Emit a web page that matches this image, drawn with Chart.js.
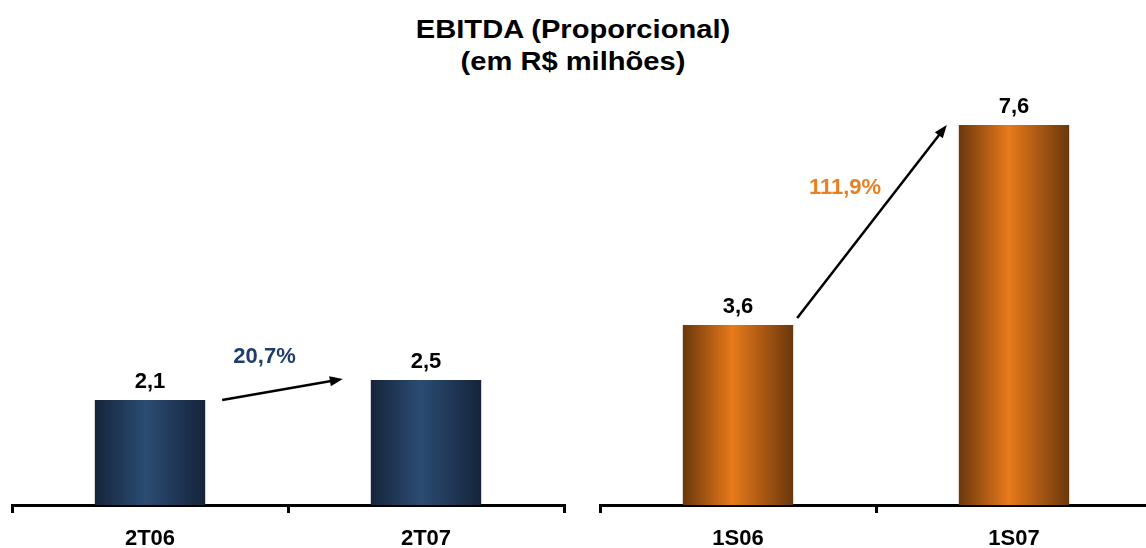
<!DOCTYPE html>
<html>
<head>
<meta charset="utf-8">
<script src="https://cdn.jsdelivr.net/npm/chart.js@4/dist/chart.umd.min.js"></script>
<style>
  html, body { margin: 0; padding: 0; background: #fff; overflow: hidden; }
  #wrap { position: relative; width: 1146px; height: 548px; overflow: hidden; }
  #title {
    position: absolute; left: 0; top: 13px; width: 1146px;
    text-align: center; font: bold 26px "Liberation Sans", Arial, sans-serif;
    line-height: 32px; color: #000; transform: scaleX(1.12);
  }
  .box { position: absolute; top: 0; width: 576px; height: 548px; }
</style>
</head>
<body>
<div id="wrap">
  <div id="title">EBITDA (Proporcional)<br>(em R$ milhões)</div>
  <div class="box" style="left:0"><canvas id="chartLeft"></canvas></div>
  <div class="box" style="left:588px"><canvas id="chartRight"></canvas></div>
</div>
<script>
// Dados
var leftLabels = ['2T06', '2T07'];
var leftValues = [2.1, 2.5];
var leftGrowth = '20,7%';

var rightLabels = ['1S06', '1S07'];
var rightValues = [3.6, 7.6];
var rightGrowth = '111,9%';

var FONT = '"Liberation Sans", Arial, sans-serif';

function drawText(ctx, text, x, y, size, color) {
    ctx.save();
    ctx.font = 'bold ' + size + 'px ' + FONT;
    ctx.fillStyle = color;
    ctx.textAlign = 'center';
    ctx.textBaseline = 'middle';
    ctx.fillText(text, x, y);
    ctx.restore();
}

// gradiente horizontal em cada barra
function barGradient(dark, light) {
    return function (c) {
        var chart = c.chart;
        if (!chart.chartArea || c.dataIndex === undefined) return light;
        var xs = chart.scales.x;
        var cx = xs.getPixelForValue(c.dataIndex);
        var w = xs.width / chart.data.labels.length * 0.4;
        var g = chart.ctx.createLinearGradient(cx - w / 2, 0, cx + w / 2, 0);
        g.addColorStop(0, dark);
        g.addColorStop(0.45, light);
        g.addColorStop(1, dark);
        return g;
    };
}

// rotulos, seta e percentual
var annotate = {
    id: 'annotate',
    afterDatasetsDraw: function (chart, args, opts) {
        var ctx = chart.ctx;
        var bars = chart.getDatasetMeta(0).data;
        var values = chart.data.datasets[0].data;
        var xs = chart.scales.x;

        bars.forEach(function (b, i) {
            drawText(ctx, values[i].toFixed(1).replace('.', ','), b.x, b.y - 18, 22, '#000');
            drawText(ctx, chart.data.labels[i], xs.getPixelForValue(i), xs.top + 34, 22, '#000');
        });

        var a = bars[0], b = bars[1];
        var x1 = a.x + a.width / 2 + opts.start[0];
        var y1 = a.y + opts.start[1];
        var x2 = b.x - b.width / 2 + opts.end[0];
        var y2 = b.y + opts.end[1];
        var ang = Math.atan2(y2 - y1, x2 - x1);
        var head = 13;

        ctx.save();
        ctx.strokeStyle = '#000';
        ctx.fillStyle = '#000';
        ctx.lineWidth = 2.5;
        ctx.beginPath();
        ctx.moveTo(x1, y1);
        ctx.lineTo(x2 - head * 0.8 * Math.cos(ang), y2 - head * 0.8 * Math.sin(ang));
        ctx.stroke();
        ctx.beginPath();
        ctx.moveTo(x2, y2);
        ctx.lineTo(x2 - head * Math.cos(ang) + 5 * Math.sin(ang), y2 - head * Math.sin(ang) - 5 * Math.cos(ang));
        ctx.lineTo(x2 - head * Math.cos(ang) - 5 * Math.sin(ang), y2 - head * Math.sin(ang) + 5 * Math.cos(ang));
        ctx.closePath();
        ctx.fill();
        ctx.restore();

        drawText(ctx, opts.text, (x1 + x2) / 2 + opts.label[0], (y1 + y2) / 2 + opts.label[1], 22, opts.color);
    }
};

function makeChart(id, labels, values, dark, light, growth) {
    var ctx = document.getElementById(id).getContext('2d');
    return new Chart(ctx, {
        type: 'bar',
        data: {
            labels: labels,
            datasets: [{
                data: values,
                backgroundColor: barGradient(dark, light),
                categoryPercentage: 1,
                barPercentage: 0.4
            }]
        },
        options: {
            responsive: true,
            maintainAspectRatio: false,
            animation: false,
            layout: { padding: { left: 12, right: 12, top: 105, bottom: 35 } },
            plugins: {
                legend: { display: false },
                tooltip: { enabled: false },
                annotate: growth
            },
            scales: {
                x: {
                    grid: {
                        drawOnChartArea: false,
                        drawTicks: true,
                        tickLength: 8,
                        color: '#000',
                        lineWidth: 3
                    },
                    border: { color: '#000', width: 3 },
                    ticks: { display: false }
                },
                y: { display: false, min: 0, max: 8 }
            }
        },
        plugins: [annotate]
    });
}

makeChart('chartLeft', leftLabels, leftValues, '#15243a', '#2b4c73',
    { text: leftGrowth, color: '#1f3e6b', start: [17, 0], end: [-28, -1], label: [-18, -33] });
makeChart('chartRight', rightLabels, rightValues, '#6a370c', '#e87a1a',
    { text: rightGrowth, color: '#ea7f22', start: [4, -7], end: [-12, 0], label: [-27, -34] });
</script>
</body>
</html>
